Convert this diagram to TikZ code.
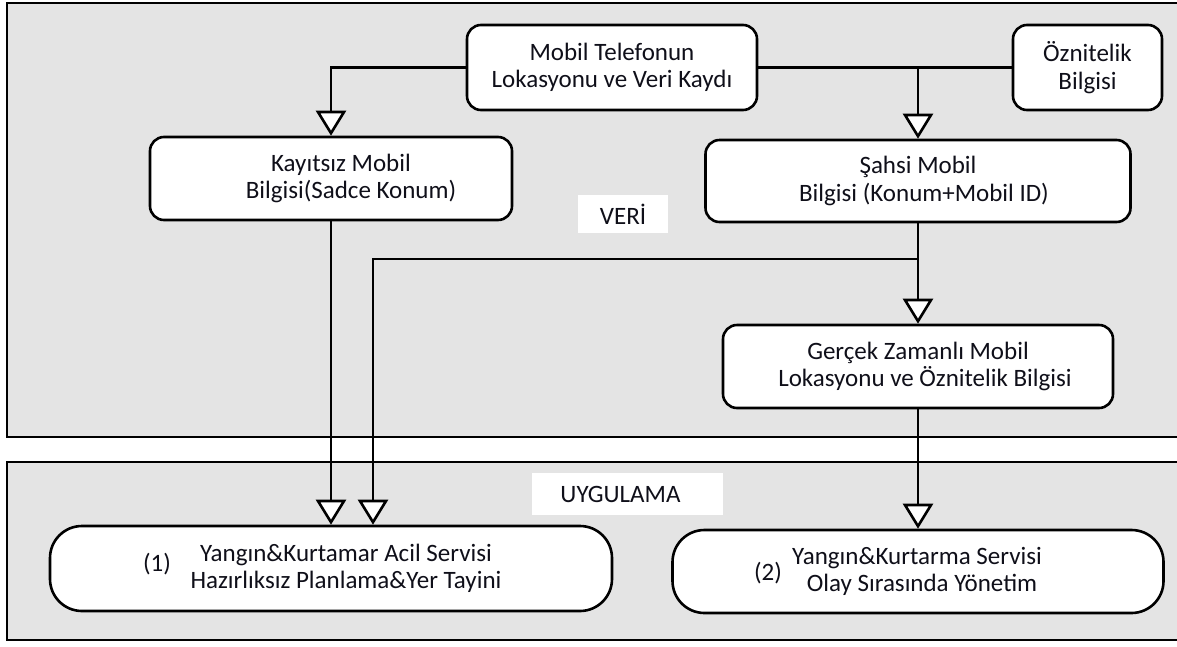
\documentclass[tikz,border=0pt]{standalone}
\usepackage{fontspec}
\setmainfont{Carlito}
\usetikzlibrary{arrows.meta}
\definecolor{panelgray}{RGB}{228,228,228}
\definecolor{inkdark}{RGB}{15,15,25}

\tikzset{
  panel/.style={draw=black, line width=2.6pt, fill=panelgray},
  tag/.style={fill=white, inner sep=0pt, text=inkdark,
    font=\fontsize{25}{27.5}\selectfont},
  stepbox/.style={draw=black, line width=2.6pt, fill=white, rounded corners=14pt,
    align=center, inner sep=2pt, text=inkdark,
    font=\fontsize{25}{27.5}\selectfont},
  servicebox/.style={stepbox, rounded corners=32pt},
  numtag/.style={text=inkdark, font=\fontsize{25}{27.5}\selectfont, inner sep=0pt},
  link/.style={draw=black, line width=2.6pt},
  flow/.style={link, -{Triangle[fill=white, length=25pt, width=30pt]}}
}

\begin{document}
\begin{tikzpicture}[x=1pt, y=-1pt]
  \useasboundingbox (0,0) rectangle (1177,646);
  \clip (0,0) rectangle (1177,646);
  \fill[white] (0,0) rectangle (1177,646);

  % the two layers: data (top) and application (bottom)
  \draw[panel] (7,3) rectangle (1200,437);
  \draw[panel] (7,462) rectangle (1200,640);

  \node[tag, minimum width=90pt, minimum height=38pt] (veri) at (623,214) {VERİ};
  \node[tag, minimum width=191pt, minimum height=42pt] (uyg) at (627.5,494) {\hspace*{-14pt}UYGULAMA};

  % data sources
  \node[stepbox, minimum width=290pt, minimum height=85pt] (mob) at (612,67.5)
    {Mobil Telefonun\\Lokasyonu ve Veri Kaydı};
  \node[stepbox, minimum width=149pt, minimum height=85pt] (ozn) at (1087.5,67.5)
    {Öznitelik\\Bilgisi};

  % derived data
  \node[stepbox, minimum width=362pt, minimum height=83pt] (kay) at (331,178.5)
    {\hspace*{20pt}Kayıtsız Mobil\\\hspace*{40pt}Bilgisi(Sadce Konum)};
  \node[stepbox, minimum width=425pt, minimum height=82pt] (sah) at (918,181)
    {Şahsi Mobil\\\hspace*{12pt}Bilgisi (Konum+Mobil ID)};
  \node[stepbox, minimum width=390pt, minimum height=83pt] (ger) at (918,366.5)
    {Gerçek Zamanlı Mobil\\\hspace*{14pt}Lokasyonu ve Öznitelik Bilgisi};

  % applications
  \node[servicebox, minimum width=562pt, minimum height=85pt] (app1) at (331,568.5)
    {\hspace*{30pt}Yangın\&Kurtamar Acil Servisi\\\hspace*{30pt}Hazırlıksız Planlama\&Yer Tayini};
  \node[servicebox, minimum width=491pt, minimum height=83pt] (app2) at (918,571.5)
    {\hspace*{-2pt}Yangın\&Kurtarma Servisi\\\hspace*{8pt}Olay Sırasında Yönetim};
  \node[numtag] (n1) at (157,564) {(1)};
  \node[numtag] (n2) at (768,573) {(2)};

  % connectors
  \coordinate (j1) at (sah.north |- mob.east);
  \coordinate (j2) at (918,259);
  \draw[flow] (mob.west) -| (kay.north);
  \draw[link] (mob.east) -- (ozn.west);
  \draw[flow] (j1) -- (sah.north);
  \draw[flow] (sah.south) -- (ger.north);
  \draw[flow] (j2) -| ([xshift=42pt]app1.north);
  \draw[flow] (kay.south) -- (app1.north);
  \draw[flow] (ger.south) -- (app2.north);
\end{tikzpicture}
\end{document}
